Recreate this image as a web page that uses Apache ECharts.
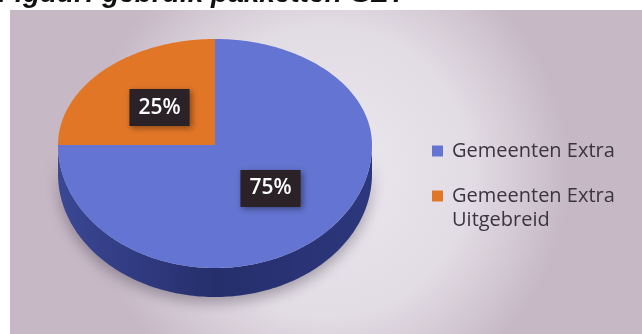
<!DOCTYPE html>
<html><head><meta charset="utf-8">
<script src="https://cdn.jsdelivr.net/npm/echarts@6/dist/echarts.min.js"></script>
<style>html,body{margin:0;padding:0;background:#fff}#c{width:642px;height:334px}</style>
</head><body><div id="c"></div>
<script>
const titleText = 'Figuur: gebruik pakketten GZT';
const categories = ['Gemeenten Extra', 'Gemeenten Extra Uitgebreid'];
const shares = [75, 25];
const colors = ['#6474d2', '#e27627'];

const total = shares.reduce((a, b) => a + b, 0);
let acc = 0;
const starts = shares.map(v => { const s = acc; acc += v; return s; });

const CX = 215, CY = 145, RX = 157, RY_TOP = 106, RY_BOT = 123, DEPTH = 29;

function pt(theta, dy) {
  const c = Math.cos(theta), s = Math.sin(theta);
  const ry = c >= 0 ? RY_TOP : RY_BOT;
  return [CX + RX * s, CY - ry * c + (dy || 0)];
}
function arcPts(a0, a1, dy) {
  const n = Math.max(2, Math.ceil((a1 - a0) / 0.02));
  const out = [];
  for (let i = 0; i <= n; i++) out.push(pt(a0 + (a1 - a0) * i / n, dy));
  return out;
}

function renderItem(params, api) {
  const val = api.value(0), start = api.value(1);
  const a0 = start / total * 2 * Math.PI, a1 = (start + val) / total * 2 * Math.PI;
  const color = api.visual('color');
  const children = [];
  const s0 = Math.max(a0, Math.PI / 2), s1 = Math.min(a1, 3 * Math.PI / 2);
  if (s1 > s0) {
    const top = arcPts(s0, s1, 0);
    const bot = arcPts(s0, s1, DEPTH).reverse();
    children.push({
      type: 'polygon', shape: { points: top.concat(bot) }, z2: 1,
      style: {
        fill: { type: 'linear', x: 0, y: 0, x2: 1, y2: 0, colorStops: [
          { offset: 0, color: '#3a4794' }, { offset: 0.5, color: '#262f6c' }, { offset: 1, color: '#2c377d' } ] },
        shadowBlur: 14, shadowColor: 'rgba(40,30,50,0.35)', shadowOffsetY: 6
      }
    });
  }
  const face = [[CX, CY]].concat(arcPts(a0, a1, 0));
  children.push({ type: 'polygon', shape: { points: face }, z2: 2, style: { fill: color } });
  const mid = (a0 + a1) / 2;
  const ry = Math.cos(mid) >= 0 ? RY_TOP : RY_BOT;
  children.push({
    type: 'text', x: CX + RX * 0.5 * Math.sin(mid), y: CY - ry * 0.5 * Math.cos(mid), z2: 3,
    style: {
      text: Math.round(val / total * 100) + '%',
      fill: '#ffffff', fontSize: 21, fontFamily: 'Open Sans', fontWeight: 600,
      align: 'center', verticalAlign: 'middle',
      backgroundColor: '#2a2227', padding: [8, 9, 8, 9],
      shadowBlur: 6, shadowColor: 'rgba(0,0,0,0.4)', shadowOffsetX: 2, shadowOffsetY: 2
    }
  });
  return { type: 'group', children };
}

const chart = echarts.init(document.getElementById('c'));
chart.setOption({
  animation: false,
  graphic: [{
    type: 'rect', z: -10, shape: { x: 10, y: 10, width: 632, height: 324 },
    style: { fill: { type: 'radial', x: 0.5, y: 0.5, r: 0.75, colorStops: [
      { offset: 0, color: '#ebe8ee' }, { offset: 0.6, color: '#e2dce4' }, { offset: 1, color: '#c6b8c5' } ] } }
  }],
  title: {
    text: titleText, left: -2, top: -20, padding: 0,
    textStyle: { fontSize: 28, fontWeight: 'bold', fontStyle: 'italic', fontFamily: 'Liberation Sans', color: '#111' }
  },
  legend: [
    { data: [categories[0]], orient: 'vertical', left: 432, top: 139, padding: 0, icon: 'rect', itemWidth: 11, itemHeight: 11,
      textStyle: { fontSize: 20, lineHeight: 24, color: '#3b3540', fontFamily: 'Open Sans', padding: [0, 0, 0, 4] } },
    { data: [categories[1]], orient: 'vertical', left: 432, top: 160, padding: 0, icon: 'rect', itemWidth: 11, itemHeight: 11,
      formatter: name => '\n' + name,
      textStyle: { fontSize: 20, lineHeight: 24, color: '#3b3540', fontFamily: 'Open Sans', padding: [0, 0, 0, 4], width: 180, overflow: 'break' } }
  ],
  series: categories.map((name, i) => ({
    type: 'custom', name: name, coordinateSystem: 'none',
    itemStyle: { color: colors[i] },
    renderItem: renderItem,
    data: [[shares[i], starts[i]]]
  }))
});
</script></body></html>
